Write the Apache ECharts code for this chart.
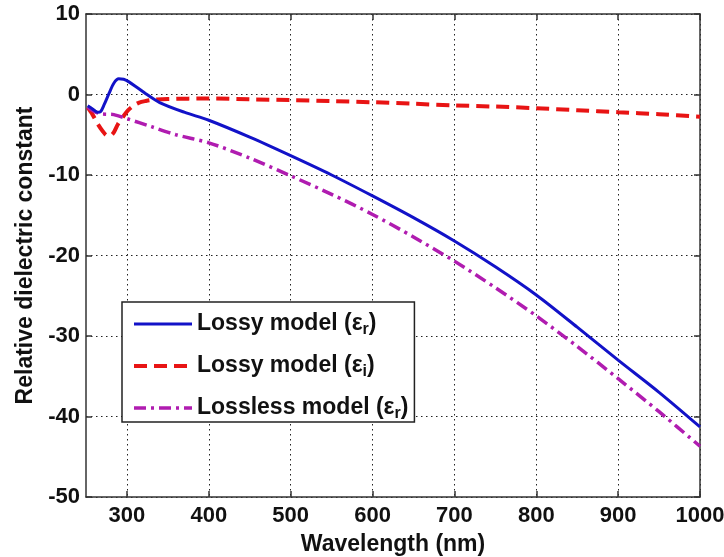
<!DOCTYPE html>
<html>
<head>
<meta charset="utf-8">
<title>Relative dielectric constant</title>
<script src="https://cdn.jsdelivr.net/npm/echarts@6/dist/echarts.min.js"></script>
<style>
  html, body { margin: 0; padding: 0; background: #fff; }
  #chart { width: 724px; height: 557px; }
</style>
</head>
<body>
<div id="chart"></div>
<script>
// wavelength (nm) and values
const wlLossyR = [252, 258, 264, 268, 272, 278, 284, 290, 296, 302, 312, 323, 340, 370, 400, 450, 500, 550, 600, 650, 700, 750, 800, 850, 900, 950, 1000]
const lossyR = [-1.4, -1.8, -2.2, -2.1, -1.3, 0.1, 1.4, 1.95, 1.9, 1.6, 0.9, 0.1, -1.0, -2.2, -3.2, -5.3, -7.6, -10.0, -12.6, -15.3, -18.2, -21.4, -24.9, -28.9, -33.0, -37.0, -41.3]

const wlLossyI = [252, 258, 264, 270, 276, 280, 284, 289, 295, 301, 308, 315, 323, 332, 350, 400, 450, 500, 550, 600, 650, 700, 750, 800, 850, 900, 950, 1000]
const lossyI = [-1.6, -2.5, -3.6, -4.5, -5.1, -5.1, -4.7, -3.7, -2.8, -2.0, -1.4, -1.0, -0.8, -0.65, -0.55, -0.5, -0.6, -0.7, -0.82, -0.96, -1.15, -1.35, -1.5, -1.7, -1.95, -2.2, -2.45, -2.75]

const wlLossless = [252, 260, 268, 276, 284, 300, 330, 360, 400, 450, 500, 550, 600, 650, 700, 750, 800, 850, 900, 950, 1000]
const losslessR = [-1.6, -2.1, -2.4, -2.45, -2.5, -3.0, -4.0, -5.0, -6.0, -7.9, -10.1, -12.4, -14.9, -17.7, -20.7, -24.0, -27.5, -31.3, -35.3, -39.4, -43.7]

const xTicks = [300, 400, 500, 600, 700, 800, 900, 1000]
const yTicks = [-50, -40, -30, -20, -10, 0, 10]

const seriesNames = ['Lossy model (εr)', 'Lossy model (εi)', 'Lossless model (εr)']
const legendMain = ['Lossy model (ε', 'Lossy model (ε', 'Lossless model (ε']
const legendSub = ['r', 'i', 'r']

const chart = echarts.init(document.getElementById('chart'))

const font = '"Liberation Sans", Arial, sans-serif'
const frameColor = '#333'
const gridLine = { show: true, lineStyle: { color: '#222', type: [1.5, 3.5], width: 1 } }

function pairs(xs, ys) {
  return xs.map((x, i) => [x, ys[i]])
}

function xAxis(pos, main) {
  return {
    type: 'value',
    position: pos,
    min: 250,
    max: 1000,
    interval: 50,
    name: main ? 'Wavelength (nm)' : '',
    nameLocation: 'middle',
    nameGap: 36,
    nameTextStyle: { fontFamily: font, fontSize: 23, fontWeight: 'bold', color: '#111' },
    axisLine: { show: true, onZero: false, lineStyle: { color: frameColor, width: 1.5 } },
    axisTick: { show: true, inside: true, length: 6, customValues: xTicks, lineStyle: { color: frameColor, width: 1.5 } },
    axisLabel: {
      show: main, customValues: xTicks, margin: 8,
      fontFamily: font, fontSize: 22, fontWeight: 'bold', color: '#111',
      formatter: v => String(v)
    },
    splitLine: main ? gridLine : { show: false }
  }
}

function yAxis(pos, main) {
  return {
    type: 'value',
    position: pos,
    min: -50,
    max: 10,
    interval: 10,
    name: main ? 'Relative dielectric constant' : '',
    nameLocation: 'middle',
    nameGap: 47,
    nameTextStyle: { fontFamily: font, fontSize: 23, fontWeight: 'bold', color: '#111' },
    axisLine: { show: true, onZero: false, lineStyle: { color: frameColor, width: 1.5 } },
    axisTick: { show: true, inside: true, length: 6, lineStyle: { color: frameColor, width: 1.5 } },
    axisLabel: {
      show: main, margin: 6,
      fontFamily: font, fontSize: 22, fontWeight: 'bold', color: '#111',
      formatter: v => (yTicks.indexOf(v) >= 0 ? String(v) : '')
    },
    splitLine: main ? gridLine : { show: false }
  }
}

const option = {
  backgroundColor: '#fff',
  animation: false,
  grid: { left: 86, right: 24, top: 14, bottom: 60, outerBoundsMode: 'none' },
  xAxis: [xAxis('bottom', true), xAxis('top', false)],
  yAxis: [yAxis('left', true), yAxis('right', false)],
  legend: {
    orient: 'vertical',
    left: 122,
    top: 302,
    padding: [8, 6, 0, 10],
    itemGap: 14,
    itemWidth: 58,
    itemHeight: 22,
    backgroundColor: '#fff',
    borderColor: '#222',
    borderWidth: 1.5,
    borderRadius: 0,
    itemStyle: { opacity: 0 },
    lineStyle: { width: 'inherit' },
    data: seriesNames,
    formatter: name => {
      const i = seriesNames.indexOf(name)
      return '{t|' + legendMain[i] + '}{s|' + legendSub[i] + '}{t|)}'
    },
    textStyle: {
      fontFamily: font,
      color: '#111',
      rich: {
        t: { fontFamily: font, fontSize: 23, fontWeight: 'bold', color: '#111', lineHeight: 28 },
        s: { fontFamily: font, fontSize: 16, fontWeight: 'bold', color: '#111', lineHeight: 28, padding: [12, 0, 0, 0] }
      }
    }
  },
  series: [
    {
      name: seriesNames[0],
      type: 'line',
      data: pairs(wlLossyR, lossyR),
      showSymbol: false,
      symbol: 'none',
      smooth: 0.3,
      lineStyle: { color: '#1212C8', width: 3 },
      itemStyle: { color: '#1212C8' },
      z: 3
    },
    {
      name: seriesNames[1],
      type: 'line',
      data: pairs(wlLossyI, lossyI),
      showSymbol: false,
      symbol: 'none',
      smooth: 0.3,
      lineStyle: { color: '#E81414', width: 4, type: [13, 7] },
      itemStyle: { color: '#E81414' },
      z: 2
    },
    {
      name: seriesNames[2],
      type: 'line',
      data: pairs(wlLossless, losslessR),
      showSymbol: false,
      symbol: 'none',
      smooth: 0.3,
      lineStyle: { color: '#B01CB0', width: 3.5, type: [12, 5, 3, 5] },
      itemStyle: { color: '#B01CB0' },
      z: 2
    }
  ]
}

chart.setOption(option)
</script>
</body>
</html>
